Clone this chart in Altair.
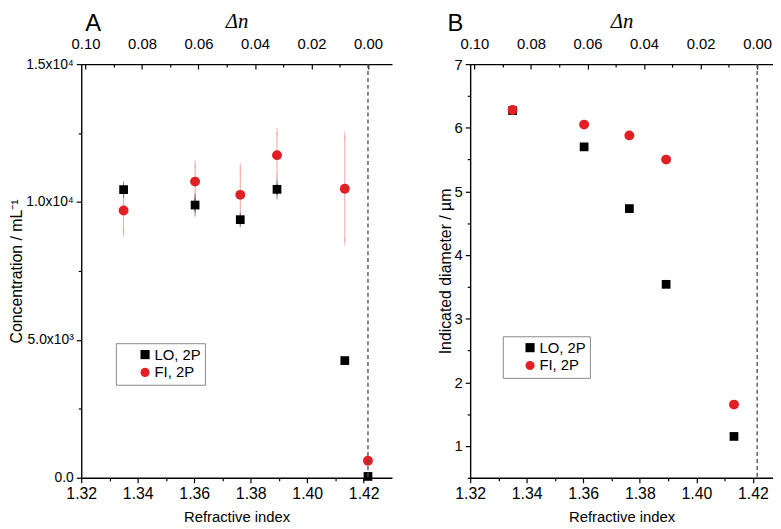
import altair as alt
import pandas as pd

# ---------------- data ----------------
N0 = 1.4215  # refractive index where delta-n = 0 (dashed line)

ri_conc = [1.335, 1.3603, 1.3763, 1.3893, 1.4133, 1.4215]
lo_conc = [10450, 9890, 9360, 10460, 4250, 50]
lo_conc_err = [150, 270, 120, 215, 0, 0]
fi_conc = [9690, 10740, 10260, 11700, 10480, 620]
fi_conc_err = [830, 650, 1020, 850, 1930, 0]

ri_diam = [1.335, 1.3603, 1.3763, 1.3893, 1.4133]
lo_diam = [6.27, 5.70, 4.73, 3.54, 1.15]
fi_diam = [6.28, 6.05, 5.88, 5.50, 1.65]

series_names = ["LO, 2P", "FI, 2P"]
series_colors = ["#000000", "#e31f26"]
series_shapes = ["square", "circle"]
series_sizes = [78, 100]
err_colors = {"LO, 2P": "#555555", "FI, 2P": "#f2a0a0"}

ri_ticks = [1.32, 1.33, 1.34, 1.35, 1.36, 1.37, 1.38, 1.39, 1.40, 1.41, 1.42]
dn_ticks = [0.00, 0.01, 0.02, 0.03, 0.04, 0.05, 0.06, 0.07, 0.08, 0.09, 0.10]
conc_ticks = [0, 2500, 5000, 7500, 10000, 12500, 15000]
diam_ticks = [0.5, 1, 1.5, 2, 2.5, 3, 3.5, 4, 4.5, 5, 5.5, 6, 6.5, 7]

conc_domain = [0, 15000]
diam_domain = [0.5, 7]
ri_domain_a = [1.32, 1.43]
ri_domain_b = [1.32, 1.4271]

FONT = "Liberation Sans"
W_A, W_B, H = 314, 306, 418

# ---------------- helpers ----------------
def points_df(ri, lo, fi):
    rows = []
    for n, v in zip(ri, lo):
        rows.append({"n": n, "v": v, "series": series_names[0], "ord": 0})
    for n, v in zip(ri, fi):
        rows.append({"n": n, "v": v, "series": series_names[1], "ord": 1})
    return pd.DataFrame(rows)


def err_df(ri, vals, errs):
    rows = []
    for n, v, e in zip(ri, vals, errs):
        if e > 0:
            rows.append({"n": n, "lo": v - e, "hi": v + e})
    return pd.DataFrame(rows)


def tsize(test, major, minor):
    return {"condition": {"test": test, "value": major}, "value": minor}


X_MAJOR = "round(datum.value*100) % 2 == 0"


def bottom_axis():
    return alt.Axis(
        orient="bottom", values=ri_ticks, title="Refractive index",
        labelExpr=f"{X_MAJOR} ? format(datum.value, '.2f') : ''",
        tickSize=tsize(X_MAJOR, 5, 3), labelPadding=3, titlePadding=8,
        labelFlush=False, labelOverlap=False, grid=False,
        labelFontSize=16, titleFontSize=15,
    )


def top_axis():
    return alt.Axis(
        orient="top", values=dn_ticks, title="Δn",
        labelExpr=f"{X_MAJOR} ? format(datum.value, '.2f') : ''",
        tickSize=tsize(X_MAJOR, -5, -3), labelPadding=18, titlePadding=3,
        labelFlush=False, labelOverlap=False, grid=False,
        labelFontSize=15, titleFont="Liberation Serif", titleFontStyle="italic",
        titleFontSize=21,
    )


def legend(x, y, offset):
    return alt.Legend(
        title=None, orient="none", legendX=x, legendY=y,
        strokeColor="#8a8a8a", fillColor="white", padding=4,
        symbolOffset=offset, symbolSize=85, labelOffset=2,
        labelFontSize=15, labelFont=FONT, labelColor="black", rowPadding=2,
    )


def panel(pts, errs, y_domain, make_y_axis, ri_domain, width, leg, letter, letter_x):
    xs = alt.Scale(domain=ri_domain, nice=False, zero=False)
    ys = alt.Scale(domain=y_domain, nice=False, zero=False)

    data_layers = []
    for name in ["FI, 2P", "LO, 2P"]:
        df = errs.get(name)
        if df is None or df.empty:
            continue
        rule = alt.Chart(df).mark_rule(color=err_colors[name], strokeWidth=1).encode(
            x=alt.X("n:Q", scale=xs, axis=bottom_axis()),
            y=alt.Y("lo:Q", scale=ys, axis=make_y_axis()),
            y2="hi:Q",
        )
        cap_lo = alt.Chart(df).mark_tick(color=err_colors[name], thickness=1, size=8).encode(
            x=alt.X("n:Q", scale=xs, axis=bottom_axis()),
            y=alt.Y("lo:Q", scale=ys, axis=make_y_axis()))
        cap_hi = alt.Chart(df).mark_tick(color=err_colors[name], thickness=1, size=8).encode(
            x=alt.X("n:Q", scale=xs, axis=bottom_axis()),
            y=alt.Y("hi:Q", scale=ys, axis=make_y_axis()))
        data_layers += [rule, cap_lo, cap_hi]

    pts_layer = alt.Chart(pts).mark_point(filled=True, opacity=1, strokeWidth=0).encode(
        x=alt.X("n:Q", scale=xs, axis=bottom_axis()),
        y=alt.Y("v:Q", scale=ys, axis=make_y_axis()),
        color=alt.Color("series:N", sort=series_names,
                        scale=alt.Scale(domain=series_names, range=series_colors), legend=leg),
        shape=alt.Shape("series:N", sort=series_names,
                        scale=alt.Scale(domain=series_names, range=series_shapes), legend=leg),
        size=alt.Size("series:N", scale=alt.Scale(domain=series_names, range=series_sizes), legend=None),
        order=alt.Order("ord:Q"),
    )
    data_layers.append(pts_layer)
    inner = alt.layer(*data_layers)

    dn_lo = N0 - ri_domain[1]
    dn_hi = N0 - ri_domain[0]
    dashed = alt.Chart(pd.DataFrame({"dn": [0.0]})).mark_rule(
        color="#555555", strokeDash=[4, 3], strokeWidth=1.4).encode(
        x=alt.X("dn:Q", scale=alt.Scale(domain=[dn_lo, dn_hi], reverse=True, nice=False, zero=False),
                axis=top_axis()))

    lab = alt.Chart(pd.DataFrame({"label": [letter]})).mark_text(
        align="left", baseline="top", fontSize=24, font=FONT, color="black").encode(
        x=alt.value(letter_x), y=alt.value(-52), text="label:N")

    return alt.layer(inner, dashed, lab).resolve_scale(x="independent").properties(
        width=width, height=H)


# ---- panel A ----
pts_a = points_df(ri_conc, lo_conc, fi_conc)
errs_a = {"LO, 2P": err_df(ri_conc, lo_conc, lo_conc_err),
          "FI, 2P": err_df(ri_conc, fi_conc, fi_conc_err)}
CONC_MAJOR = "datum.value % 5000 == 0"


def y_axis_a():
    return alt.Axis(
        values=conc_ticks, title="Concentration / mL⁻¹", grid=False,
        labelExpr=("datum.value == 0 ? '0.0' : datum.value == 5000 ? '5.0x10³' : "
                   "datum.value == 10000 ? '1.0x10⁴' : datum.value == 15000 ? '1.5x10⁴' : ''"),
        tickSize=tsize(CONC_MAJOR, 5, 3), labelPadding=3, titlePadding=1,
        labelFontSize=14, titleFontSize=16, labelOverlap=False,
    )


chart_a = panel(pts_a, errs_a, conc_domain, y_axis_a, ri_domain_a, W_A,
                legend(35, 282, 18), "A", 4)

# ---- panel B ----
pts_b = points_df(ri_diam, lo_diam, fi_diam)
DIAM_MAJOR = "datum.value % 1 == 0"


def y_axis_b():
    return alt.Axis(
        values=diam_ticks, title="Indicated diameter / µm", grid=False,
        labelExpr=f"{DIAM_MAJOR} ? format(datum.value, 'd') : ''",
        tickSize=tsize(DIAM_MAJOR, 5, 3), labelPadding=3, titlePadding=1,
        labelFontSize=15, titleFontSize=16, labelOverlap=False,
    )


chart_b = panel(pts_b, {}, diam_domain, y_axis_b, ri_domain_b, W_B,
                legend(33, 275, 16), "B", -23)

chart = alt.hconcat(chart_a, chart_b, spacing=79, bounds="flush").resolve_legend(
    color="independent", shape="independent"
).properties(padding=0).configure_view(stroke=None).configure_axis(
    labelFont=FONT, titleFont=FONT, labelColor="black", titleColor="black",
    titleFontWeight="normal", domainColor="black", domainWidth=1.4,
    tickColor="black", tickWidth=1.2,
)

chart.save("out.html", embed_options={"renderer": "svg", "actions": False})
